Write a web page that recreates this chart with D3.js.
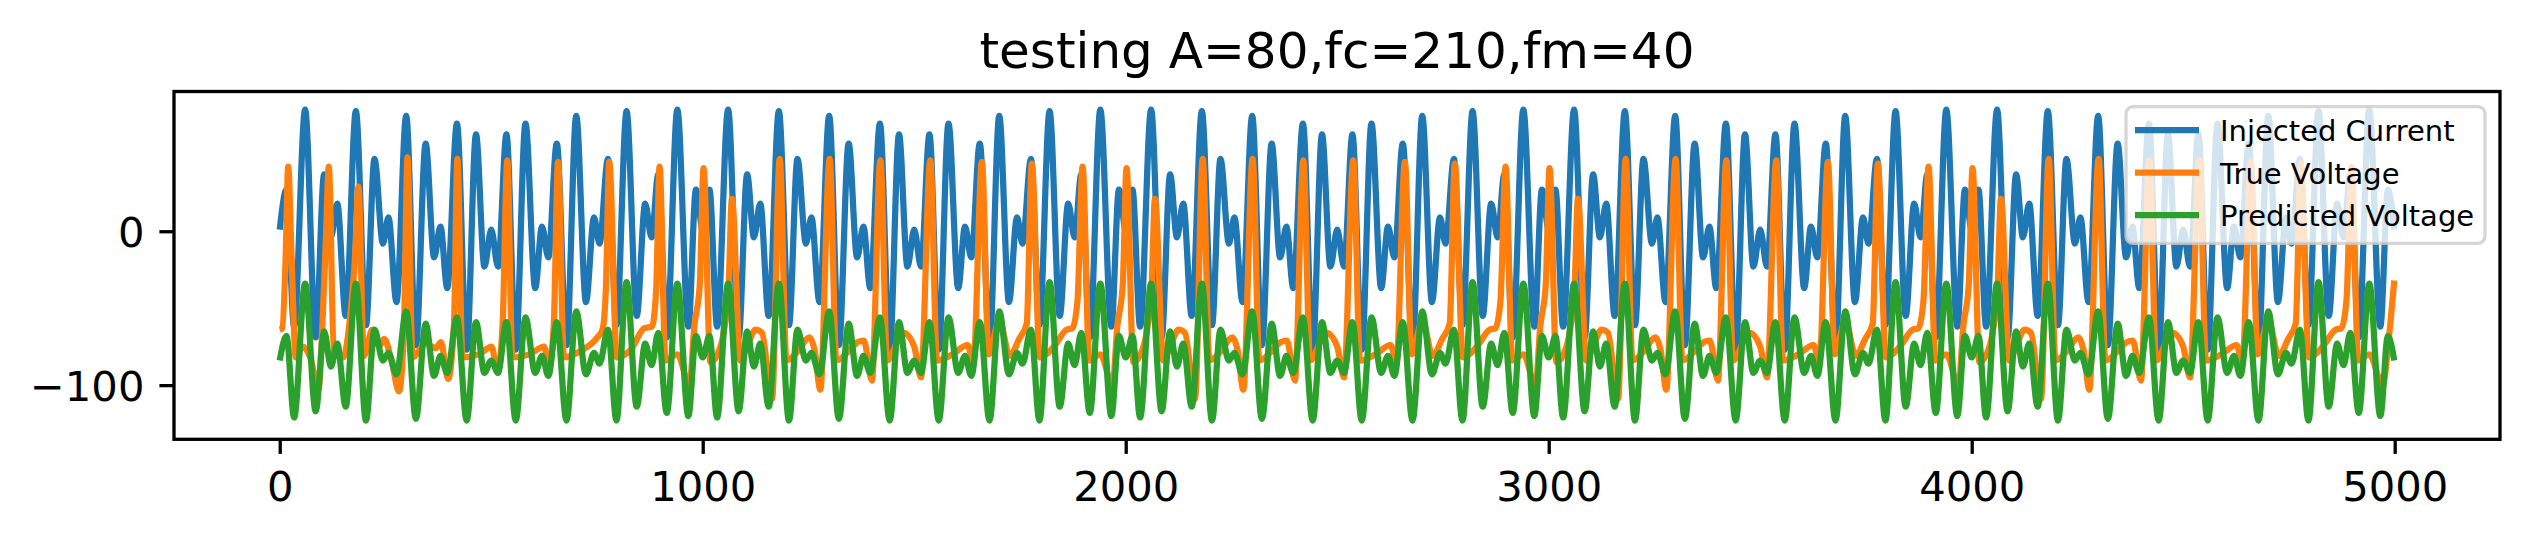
<!DOCTYPE html>
<html>
<head>
<meta charset="utf-8">
<script src="https://cdn.jsdelivr.net/npm/d3@7"></script>
<style>
body { margin: 0; background: #ffffff; }
svg { display: block; }
text { font-family: "DejaVu Sans", sans-serif; fill: #000000; }
</style>
</head>
<body>
<svg id="chart" width="2528" height="540"></svg>
<script>
var chartTitle = "testing A=80,fc=210,fm=40";
var seriesNames = ["Injected Current", "True Voltage", "Predicted Voltage"];
var xTicks = [0, 1000, 2000, 3000, 4000, 5000];
var yTicks = [-100, 0];

// turning points of the injected current (sample index)
var turnX = [
  0,16,34,60,85,105,121,136,156,180,204,224,244,257,276,299,322,345,365,380,396,419,442,464,484,500,516,536,558,581,604,620,635,655,678,701,724,743,756,776,796,820,844,864,879,895,915,940,966,984,
  1000,1016,1034,1060,1085,1105,1121,1136,1156,1180,1204,1224,1244,1257,1276,1299,1322,1345,1365,1380,1396,1419,1442,1464,1484,1500,1516,1536,1558,1581,1604,1620,1635,1655,1678,1701,1724,1743,1756,1776,1796,1820,1844,1864,1879,1895,1915,1940,1966,1984,
  2000,2016,2034,2060,2085,2105,2121,2136,2156,2180,2204,2224,2244,2257,2276,2299,2322,2345,2365,2380,2396,2419,2442,2464,2484,2500,2516,2536,2558,2581,2604,2620,2635,2655,2678,2701,2724,2743,2756,2776,2796,2820,2844,2864,2879,2895,2915,2940,2966,2984,
  3000,3016,3034,3060,3085,3105,3121,3136,3156,3180,3204,3224,3244,3257,3276,3299,3322,3345,3365,3380,3396,3419,3442,3464,3484,3500,3516,3536,3558,3581,3604,3620,3635,3655,3678,3701,3724,3743,3756,3776,3796,3820,3844,3864,3879,3895,3915,3940,3966,3984,
  4000,4016,4034,4060,4085,4105,4121,4136,4156,4180,4204,4224,4244,4257,4276,4299,4322,4345,4365,4380,4396,4419,4442,4464,4484,4500,4516,4536,4558,4581,4604,4620,4635,4655,4678,4701,4724,4743,4756,4776,4796,4820,4844,4864,4879,4895,4915,4940,4966,4984,4999
];

var currentY = [
  1,27,-62,79,-69,37,-4,18,-55,78,-61,47,-8,9,-46,75,-74,57,-17,3,-37,70,-77,63,-23,1,-23,63,-77,70,-37,3,-17,57,-74,75,-46,9,-8,47,-61,78,-55,18,-4,37,-69,79,-62,27,
  1,27,-62,79,-69,37,-4,18,-55,78,-61,47,-8,9,-46,75,-74,57,-17,3,-37,70,-77,63,-23,1,-23,63,-77,70,-37,3,-17,57,-74,75,-46,9,-8,47,-61,78,-55,18,-4,37,-69,79,-62,27,
  1,27,-62,79,-69,37,-4,18,-55,78,-61,47,-8,9,-46,75,-74,57,-17,3,-37,70,-77,63,-23,1,-23,63,-77,70,-37,3,-17,57,-74,75,-46,9,-8,47,-61,78,-55,18,-4,37,-69,79,-62,27,
  1,27,-62,79,-69,37,-4,18,-55,78,-61,47,-8,9,-46,75,-74,57,-17,3,-37,70,-77,63,-23,1,-23,63,-77,70,-37,3,-17,57,-74,75,-46,9,-8,47,-61,78,-55,18,-4,37,-69,79,-62,27,
  1,27,-62,79,-69,37,-4,18,-55,78,-61,47,-8,9,-46,75,-74,57,-17,3,-37,70,-77,63,-23,1,-23,63,-77,70,-37,3,-17,57,-74,75,-46,9,-8,47,-61,78,-55,18,-4,37,-69,79,-62,27,1
];

// predicted voltage turns at the same samples as the current
var predictedY = [
  -84,-68,-121,-34,-117,-65,-88,-73,-114,-34,-123,-64,-84,-79,-93,-52,-122,-60,-94,-81,-92,-56,-123,-59,-92,-84,-92,-59,-123,-56,-92,-81,-94,-59,-123,-52,-93,-79,-86,-64,-123,-33,-114,-73,-87,-66,-118,-34,-120,-68,
  -82,-68,-121,-34,-117,-65,-88,-73,-114,-34,-123,-64,-84,-79,-93,-52,-122,-60,-94,-81,-92,-56,-123,-59,-92,-84,-92,-59,-123,-56,-92,-81,-94,-59,-123,-52,-93,-79,-86,-64,-123,-33,-114,-73,-87,-66,-118,-34,-120,-68,
  -82,-68,-121,-34,-117,-65,-88,-73,-114,-34,-123,-64,-84,-79,-93,-52,-122,-60,-94,-81,-92,-56,-123,-59,-92,-84,-92,-59,-123,-56,-92,-81,-94,-59,-123,-52,-93,-79,-86,-64,-123,-33,-114,-73,-87,-66,-118,-34,-120,-68,
  -82,-68,-121,-34,-117,-65,-88,-73,-114,-34,-123,-64,-84,-79,-93,-52,-122,-60,-94,-81,-92,-56,-123,-59,-92,-84,-92,-59,-123,-56,-92,-81,-94,-59,-123,-52,-93,-79,-86,-64,-123,-33,-114,-73,-87,-66,-118,-34,-120,-68,
  -82,-68,-121,-34,-117,-65,-88,-73,-114,-34,-123,-64,-84,-79,-93,-52,-122,-60,-94,-81,-92,-56,-123,-59,-92,-84,-92,-59,-123,-56,-92,-81,-94,-59,-123,-52,-93,-79,-86,-64,-123,-33,-114,-73,-87,-66,-118,-34,-120,-68,-84
];

// true voltage (spiking), its own turning points
var trueX = [
  0,6,14,20,28,38,55,72,92,101,109,116,128,150,168,178,186,199,219,235,247,265,282,294,302,314,345,369,381,398,412,420,432,470,501,515,527,538,550,590,625,637,648,658,672,710,751,763,771,779,797,830,862,880,890,898,912,940,969,980,993,
  1002,1018,1035,1050,1061,1069,1089,1105,1125,1140,1164,1182,1198,1225,1252,1265,1278,1300,1316,1345,1367,1381,1400,1420,1436,1460,1475,1500,1516,1538,1554,1590,1626,1640,1660,1676,1701,1726,1748,1766,1778,1797,1830,1860,1874,1886,1898,1914,1940,1969,1980,1993,
  2002,2018,2035,2050,2061,2069,2089,2105,2125,2140,2164,2182,2198,2225,2252,2265,2278,2300,2316,2345,2367,2381,2400,2420,2436,2460,2475,2500,2516,2538,2554,2590,2626,2640,2660,2676,2701,2726,2748,2766,2778,2797,2830,2860,2874,2886,2898,2914,2940,2969,2980,2993,
  3002,3018,3035,3050,3061,3069,3089,3105,3125,3140,3164,3182,3198,3225,3252,3265,3278,3300,3316,3345,3367,3381,3400,3420,3436,3460,3475,3500,3516,3538,3554,3590,3626,3640,3660,3676,3701,3726,3748,3766,3778,3797,3830,3860,3874,3886,3898,3914,3940,3969,3980,3993,
  4002,4018,4035,4050,4061,4069,4089,4105,4125,4140,4164,4182,4198,4225,4252,4265,4278,4300,4316,4345,4367,4381,4400,4420,4436,4460,4475,4500,4516,4538,4554,4590,4626,4640,4660,4676,4701,4726,4748,4766,4778,4797,4830,4860,4874,4886,4898,4914,4940,4972,4986,4999
];

var trueY = [
  -64,-63,-17,42,-17,-82,-75,-82,-102,-60,-6,42,-78,-82,-51,-17,29,-81,-64,-75,-70,-85,-104,-60,48,-82,-73,-76,-72,-96,-60,47,-82,-80,-75,-92,-60,46,-82,-80,-75,-88,-60,45,-82,-78,-69,-64,-38,45,-82,-77,-63,-62,-38,42,-84,-80,-100,-62,-35,
  41,-85,-80,-65,-38,21,-84,-75,-64,-66,-109,47,-84,-78,-69,-78,-103,47,-84,-78,-72,-71,-97,46,-84,-72,-66,-75,-95,46,-84,-80,-74,-85,45,-80,-58,-81,-70,-60,44,-82,-75,-64,-63,-45,42,-84,-80,-100,-62,-35,
  41,-85,-80,-65,-38,21,-84,-75,-64,-66,-109,47,-84,-78,-69,-78,-103,47,-84,-78,-72,-71,-97,46,-84,-72,-66,-75,-95,46,-84,-80,-74,-85,45,-80,-58,-81,-70,-60,44,-82,-75,-64,-63,-45,42,-84,-80,-100,-62,-35,
  41,-85,-80,-65,-38,21,-84,-75,-64,-66,-109,47,-84,-78,-69,-78,-103,47,-84,-78,-72,-71,-97,46,-84,-72,-66,-75,-95,46,-84,-80,-74,-85,45,-80,-58,-81,-70,-60,44,-82,-75,-64,-63,-45,42,-84,-80,-100,-62,-35,
  41,-85,-80,-65,-38,21,-84,-75,-64,-66,-109,47,-84,-78,-69,-78,-103,47,-84,-78,-72,-71,-97,46,-84,-72,-66,-75,-95,46,-84,-80,-74,-85,45,-80,-58,-81,-70,-60,44,-82,-75,-64,-63,-45,42,-84,-80,-100,-70,-32
];

var colors = ["#1f77b4", "#ff7f0e", "#2ca02c"];

var svg = d3.select("#chart");
var plotLeft = 174, plotRight = 2500, plotTop = 91.5, plotBottom = 439.3;

var x = d3.scaleLinear().domain([-249.95, 5248.95]).range([plotLeft, plotRight]);
var y = d3.scaleLinear().domain([-135.2, 90.8]).range([plotBottom, plotTop]);

svg.append("rect").attr("width", 2528).attr("height", 540).attr("fill", "#ffffff");

svg.append("defs").append("clipPath").attr("id", "plotClip")
    .append("rect")
    .attr("x", plotLeft).attr("y", plotTop)
    .attr("width", plotRight - plotLeft).attr("height", plotBottom - plotTop);

var pair = function(xs, ys)
{
    return xs.map(function(d, i) { return [d, ys[i]]; });
}

var series = [
    pair(turnX, currentY),
    pair(trueX, trueY),
    pair(turnX, predictedY)
];

var line = d3.line()
    .x(function(d) { return x(d[0]); })
    .y(function(d) { return y(d[1]); })
    .curve(d3.curveMonotoneX);

svg.append("g")
    .attr("clip-path", "url(#plotClip)")
    .selectAll("path")
    .data(series)
    .enter()
    .append("path")
    .attr("d", line)
    .attr("fill", "none")
    .attr("stroke", function(d, i) { return colors[i]; })
    .attr("stroke-width", 6.25)
    .attr("stroke-linejoin", "round");

// axes
var xAxis = svg.append("g")
    .attr("transform", "translate(0," + plotBottom + ")")
    .call(d3.axisBottom(x).tickValues(xTicks).tickFormat(d3.format("d"))
        .tickSize(14.6).tickSizeOuter(0).tickPadding(17.2));

var yAxis = svg.append("g")
    .attr("transform", "translate(" + plotLeft + ",0)")
    .call(d3.axisLeft(y).tickValues(yTicks).tickFormat(d3.format("d"))
        .tickSize(14.6).tickSizeOuter(0).tickPadding(15));

[xAxis, yAxis].forEach(function(g)
{
    g.select(".domain").remove();
    g.selectAll(".tick line").attr("stroke", "#000").attr("stroke-width", 3.3);
    g.selectAll(".tick text")
        .attr("fill", "#000")
        .style("font-family", "'DejaVu Sans', sans-serif")
        .style("font-size", "41.7px");
});
yAxis.selectAll(".tick text").attr("dy", "0.36em");

// frame on top of the lines
svg.append("rect")
    .attr("x", plotLeft).attr("y", plotTop)
    .attr("width", plotRight - plotLeft).attr("height", plotBottom - plotTop)
    .attr("fill", "none")
    .attr("stroke", "#000")
    .attr("stroke-width", 3.3);

svg.append("text")
    .attr("x", (plotLeft + plotRight) / 2)
    .attr("y", 68.3)
    .attr("text-anchor", "middle")
    .style("font-size", "50px")
    .text(chartTitle);

// legend
var legend = svg.append("g");
legend.append("rect")
    .attr("x", 2126).attr("y", 106.7)
    .attr("width", 359).attr("height", 136.6)
    .attr("rx", 7).attr("ry", 7)
    .attr("fill", "#ffffff").attr("fill-opacity", 0.8)
    .attr("stroke", "#cccccc").attr("stroke-opacity", 0.8)
    .attr("stroke-width", 3.3);

var rows = legend.selectAll("g.row")
    .data(seriesNames)
    .enter()
    .append("g")
    .attr("class", "row")
    .attr("transform", function(d, i) { return "translate(0," + (130 + i * 42.5) + ")"; });

rows.append("line")
    .attr("x1", 2135).attr("x2", 2199)
    .attr("y1", 0).attr("y2", 0)
    .attr("stroke", function(d, i) { return colors[i]; })
    .attr("stroke-width", 6.25);

rows.append("text")
    .attr("x", 2220)
    .attr("y", 11)
    .style("font-size", "29px")
    .text(function(d) { return d; });
</script>
</body>
</html>
